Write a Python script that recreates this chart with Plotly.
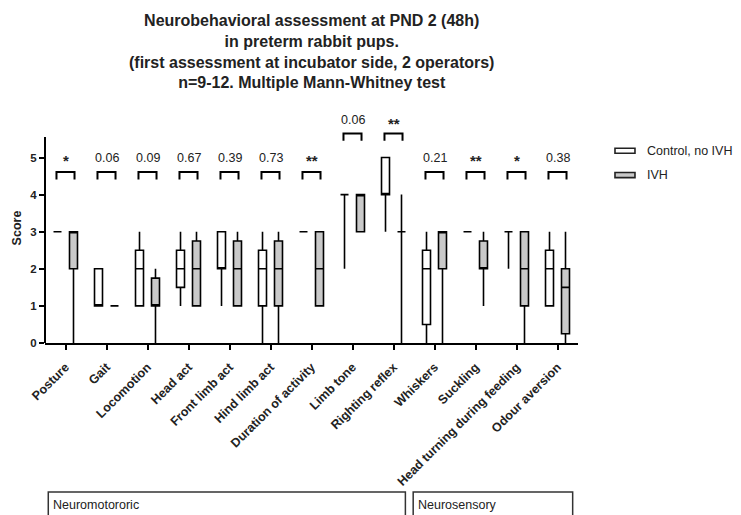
import plotly.graph_objects as go

categories = ["Posture", "Gait", "Locomotion", "Head act", "Front limb act", "Hind limb act",
              "Duration of activity", "Limb tone", "Righting reflex", "Whiskers", "Suckling",
              "Head turning during feeding", "Odour aversion"]

control_min = [3, 1, 1, 1, 1, 0, 3, 2, 3, 0, 3, 2, 1]
control_q1 = [3, 1, 1, 1.5, 2, 1, 3, 4, 4, 0.5, 3, 3, 1]
control_med = [3, 1, 2, 2, 2, 2, 3, 4, 4, 2, 3, 3, 2]
control_q3 = [3, 2, 2.5, 2.5, 3, 2.5, 3, 4, 5, 2.5, 3, 3, 2.5]
control_max = [3, 2, 3, 3, 3, 3, 3, 4, 5, 3, 3, 3, 3]

ivh_min = [0, 1, 0, 1, 1, 0, 1, 3, 0, 0, 1, 0, 0]
ivh_q1 = [2, 1, 1, 1, 1, 1, 1, 3, 3, 2, 2, 1, 0.25]
ivh_med = [3, 1, 1, 2, 2, 2, 2, 4, 3, 3, 2, 2, 1.5]
ivh_q3 = [3, 1, 1.75, 2.75, 2.75, 2.75, 3, 4, 3, 3, 2.75, 3, 2]
ivh_max = [3, 1, 2, 3, 3, 3, 3, 4, 4, 3, 3, 3, 3]

p_labels = ["*", "0.06", "0.09", "0.67", "0.39", "0.73", "**", "0.06", "**", "0.21", "**", "*", "0.38"]

series_names = ["Control, no IVH", "IVH"]
series_fills = ["white", "#c9c9c9"]

groups = ["Neuromotororic", "Neurosensory"]
group_spans = [(0, 8), (9, 12)]

FONT = "Liberation Sans, Arial, sans-serif"
TXT = "#222"

fig = go.Figure()
fig.add_trace(go.Box(
    name=series_names[0], x=categories, q1=control_q1, median=control_med, q3=control_q3,
    lowerfence=control_min, upperfence=control_max,
    fillcolor=series_fills[0], line=dict(color="black", width=1.6), whiskerwidth=0,
    boxpoints=False, offsetgroup="c", showlegend=False))
fig.add_trace(go.Box(
    name=series_names[1], x=categories, q1=ivh_q1, median=ivh_med, q3=ivh_q3,
    lowerfence=ivh_min, upperfence=ivh_max,
    fillcolor=series_fills[1], line=dict(color="black", width=1.6), whiskerwidth=0,
    boxpoints=False, offsetgroup="i", showlegend=False))

shapes = []
annotations = []
half = 0.22
for i, lab in enumerate(p_labels):
    top = max(control_max[i], ivh_max[i])
    by = 4.61 if top <= 3 else 5.65
    ty = 5.0 if top <= 3 else 6.0
    shapes.append(dict(type="path", xref="x", yref="y",
                       path=f"M {i-half},{by-0.2} L {i-half},{by} L {i+half},{by} L {i+half},{by-0.2}",
                       line=dict(color="black", width=2)))
    star = "*" in lab
    annotations.append(dict(x=i, y=ty - (0.08 if star else 0), xref="x", yref="y", text=lab, showarrow=False,
                            font=dict(family=FONT, size=15 if star else 12.5, color=TXT,
                                      weight="bold" if star else "normal"),
                            yanchor="middle"))

# y axis line (shorter than range)
shapes.append(dict(type="line", xref="paper", yref="y", x0=0, x1=0, y0=-0.02, y1=5.55,
                   line=dict(color="black", width=2)))

# custom legend
leg_y = [0.836, 0.730]
for name, fill, yy in zip(series_names, series_fills, leg_y):
    shapes.append(dict(type="rect", xref="paper", yref="paper", x0=1.0694, x1=1.1069,
                       y0=yy - 0.011, y1=yy + 0.011, line=dict(color="#222", width=1.6), fillcolor=fill))
    annotations.append(dict(x=1.1257, y=yy, xref="paper", yref="paper", text=name, showarrow=False,
                            xanchor="left", yanchor="middle",
                            font=dict(family=FONT, size=12.5, color=TXT)))

# group boxes below
for g, (a, b) in zip(groups, group_spans):
    x0 = a - 0.42 if a == 0 else a - 0.52
    x1 = b + 0.29 if b == 8 else b + 0.37
    shapes.append(dict(type="rect", xref="x", yref="paper", x0=x0, x1=x1, y0=-0.78, y1=-0.648,
                       line=dict(color="#333", width=1.5), fillcolor="white"))
    annotations.append(dict(x=x0 + 0.06, y=-0.703, xref="x", yref="paper", text=g, showarrow=False,
                            xanchor="left", yanchor="middle",
                            font=dict(family=FONT, size=12.5, color=TXT)))

annotations.append(dict(
    x=0.5, y=1.45, xref="paper", yref="paper", showarrow=False, xanchor="center", yanchor="top",
    text="Neurobehavioral assessment at PND 2 (48h)<br>in preterm rabbit pups.<br>"
         "(first assessment at incubator side, 2 operators)<br>n=9-12. Multiple Mann-Whitney test",
    font=dict(family=FONT, size=16, color=TXT, weight="bold")))

fig.update_layout(
    width=741, height=515, plot_bgcolor="white", paper_bgcolor="white",
    margin=dict(l=45, r=163, t=113, b=172),
    boxmode="group", boxgap=0.22, boxgroupgap=0.5,
    shapes=shapes, annotations=annotations,
    font=dict(family=FONT, color=TXT),
    showlegend=False,
    xaxis=dict(range=[-0.5, 12.5], showline=True, linecolor="black", linewidth=2,
               ticks="outside", ticklen=5, tickwidth=2, tickcolor="black", tickangle=-45,
               ticklabelstandoff=5,
               tickfont=dict(family=FONT, size=12.5, color=TXT, weight="bold"),
               showgrid=False, zeroline=False),
    yaxis=dict(range=[0, 6.2], tickvals=[0, 1, 2, 3, 4, 5], showline=False,
               ticks="outside", ticklen=5, tickwidth=2, tickcolor="black",
               tickfont=dict(family=FONT, size=11.5, color=TXT, weight="bold"),
               showgrid=False, zeroline=False,
               title=dict(text="Score", font=dict(family=FONT, size=12.5, color=TXT, weight="bold"),
                          standoff=5)),
)

fig.write_html("out.html")
